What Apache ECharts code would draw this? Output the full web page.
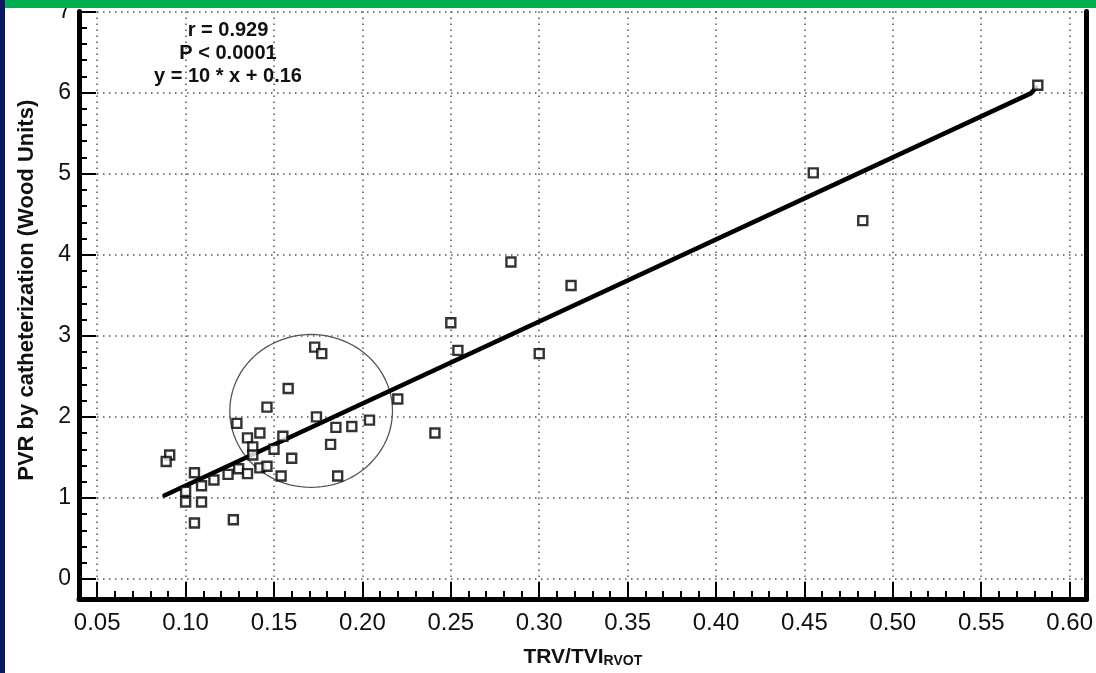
<!DOCTYPE html>
<html lang="en">
<head>
    <meta charset="UTF-8">
    <title>PVR vs TRV/TVI</title>
    <style>
        html, body { margin: 0; padding: 0; background: #fff; }
        .box { width: 1096px; height: 673px; }
    </style>
    <script src="https://cdn.jsdelivr.net/npm/echarts@6/dist/echarts.min.js"></script>
</head>
<body>
    <div class="box"></div>
    <script>
        // TRV/TVI (x) and PVR by catheterization (y)
        var trvTvi = [0.173, 0.177, 0.158, 0.146, 0.220, 0.174, 0.129, 0.185, 0.194, 0.204, 0.241,
            0.142, 0.135, 0.155, 0.138, 0.182, 0.150, 0.138, 0.160, 0.091, 0.089, 0.105,
            0.130, 0.135, 0.142, 0.146, 0.124, 0.116, 0.109, 0.100, 0.100, 0.109, 0.105,
            0.127, 0.154, 0.186, 0.284, 0.318, 0.250, 0.254, 0.300, 0.455, 0.483, 0.582];
        var pvr = [2.86, 2.78, 2.35, 2.12, 2.22, 2.00, 1.92, 1.87, 1.88, 1.96, 1.80,
            1.80, 1.74, 1.76, 1.63, 1.66, 1.60, 1.53, 1.49, 1.53, 1.45, 1.31,
            1.36, 1.30, 1.37, 1.39, 1.29, 1.22, 1.15, 1.08, 0.95, 0.95, 0.69,
            0.73, 1.27, 1.27, 3.91, 3.62, 3.16, 2.82, 2.78, 5.01, 4.42, 6.09];

        // regression line as drawn (ends with a small hook into the last point)
        var fitX = [0.088, 0.578, 0.581];
        var fitY = [1.03, 5.99, 6.06];

        // hand-drawn circle around the cluster: centre x, centre y, radius x, radius y
        var ring = [0.171, 2.073, 0.046, 0.943];

        var xTicks = [0.05, 0.10, 0.15, 0.20, 0.25, 0.30, 0.35, 0.40, 0.45, 0.50, 0.55, 0.60];
        var yTicks = [0, 1, 2, 3, 4, 5, 6, 7];
        var notes = ['r = 0.929', 'P < 0.0001', 'y = 10 * x + 0.16'];

        var xMinor = [];
        for (var i = 6; i <= 60; i++) xMinor.push(i / 100);
        var yMinor = [];
        for (var j = 1; j <= 34; j++) yMinor.push(Math.round(j * 2) / 10);

        var FONT = 'Liberation Sans, Arial, sans-serif';
        var X_MIN = 0.0397, X_MAX = 0.6096, Y_MIN = -0.247, Y_MAX = 7;

        var chart = echarts.init(document.querySelector('.box'));

        var dotted = { show: true, lineStyle: { color: '#555', width: 1.5, type: [1.5, 4.5] } };

        var option = {
            backgroundColor: '#fff',
            animation: false,
            grid: { left: 79, right: 7, top: 7.6, bottom: 73.5 },
            xAxis: [{
                type: 'value', min: X_MIN, max: X_MAX, position: 'bottom',
                axisLine: { onZero: false, lineStyle: { color: '#000', width: 5 } },
                axisTick: { inside: true, length: 17, customValues: xTicks, lineStyle: { color: '#000', width: 2 } },
                axisLabel: {
                    customValues: xTicks, margin: 12, color: '#111', fontSize: 24, fontFamily: FONT,
                    formatter: function (v) { return v.toFixed(2); }
                },
                splitLine: dotted,
                name: '{a|TRV/TVI}{b|RVOT}',
                nameLocation: 'middle', nameGap: 45,
                nameTextStyle: {
                    rich: {
                        a: { fontSize: 21, fontWeight: 'bold', fontFamily: FONT, color: '#111', verticalAlign: 'bottom', lineHeight: 24 },
                        b: { fontSize: 14, fontWeight: 'bold', fontFamily: FONT, color: '#111', verticalAlign: 'bottom', lineHeight: 24 }
                    }
                }
            }, {
                type: 'value', min: X_MIN, max: X_MAX, position: 'bottom',
                axisLine: { show: false, onZero: false },
                axisTick: { inside: true, length: 8, customValues: xMinor, lineStyle: { color: '#000', width: 2 } },
                axisLabel: { show: false },
                splitLine: { show: false }
            }],
            yAxis: [{
                type: 'value', min: Y_MIN, max: Y_MAX, position: 'left',
                axisLine: { onZero: false, lineStyle: { color: '#000', width: 5 } },
                axisTick: { inside: true, length: 17, customValues: yTicks, lineStyle: { color: '#000', width: 2 } },
                axisLabel: { customValues: yTicks, margin: 8, color: '#111', fontSize: 23, fontFamily: FONT },
                splitLine: dotted,
                name: 'PVR by catheterization (Wood Units)',
                nameLocation: 'middle', nameGap: 41,
                nameTextStyle: { fontSize: 22, fontWeight: 'bold', fontFamily: FONT, color: '#111', padding: [0, 0, 0, 30] }
            }, {
                type: 'value', min: Y_MIN, max: Y_MAX, position: 'left',
                axisLine: { show: false, onZero: false },
                axisTick: { inside: true, length: 8, customValues: yMinor, lineStyle: { color: '#000', width: 2 } },
                axisLabel: { show: false },
                splitLine: { show: false }
            }, {
                type: 'value', min: Y_MIN, max: Y_MAX, position: 'right',
                axisLine: { show: true, onZero: false, lineStyle: { color: '#000', width: 5 } },
                axisTick: { show: false },
                axisLabel: { show: false },
                splitLine: { show: false }
            }],
            graphic: [
                { type: 'rect', z: 100, shape: { x: 0, y: 0, width: 1096, height: 8 }, style: { fill: '#00b050' } },
                { type: 'rect', z: 100, shape: { x: 0, y: 0, width: 5, height: 673 }, style: { fill: '#0b1a5c' } }
            ].concat(notes.map(function (t, k) {
                return {
                    type: 'text', x: 228, y: 30 + k * 23, z: 50,
                    style: {
                        text: t, fontSize: 20, fontWeight: 'bold', fontFamily: FONT, fill: '#111',
                        align: 'center', verticalAlign: 'middle'
                    }
                };
            })),
            series: [{
                type: 'custom',
                xAxisIndex: 0, yAxisIndex: 0,
                data: [ring],
                encode: { x: 0, y: 1 },
                silent: true,
                renderItem: function (params, api) {
                    var cx = api.value(0), cy = api.value(1), rx = api.value(2), ry = api.value(3);
                    var pts = [];
                    for (var a = 0; a < 96; a++) {
                        var t = a / 96 * Math.PI * 2;
                        pts.push(api.coord([cx + rx * Math.cos(t), cy + ry * Math.sin(t)]));
                    }
                    return {
                        type: 'polygon', shape: { points: pts },
                        style: { fill: 'none', stroke: '#555', lineWidth: 1.3 }
                    };
                },
                z: 2
            }, {
                type: 'line',
                xAxisIndex: 0, yAxisIndex: 0,
                data: fitX.map(function (x, k) { return [x, fitY[k]]; }),
                showSymbol: false,
                lineStyle: { color: '#000', width: 4.5, cap: 'round', join: 'round' },
                z: 3
            }, {
                type: 'scatter',
                xAxisIndex: 0, yAxisIndex: 0,
                data: trvTvi.map(function (x, k) { return [x, pvr[k]]; }),
                symbol: 'rect', symbolSize: 9,
                itemStyle: { color: '#fff', borderColor: '#000', borderWidth: 2.4 },
                z: 4
            }]
        };

        chart.setOption(option);
    </script>
</body>
</html>
